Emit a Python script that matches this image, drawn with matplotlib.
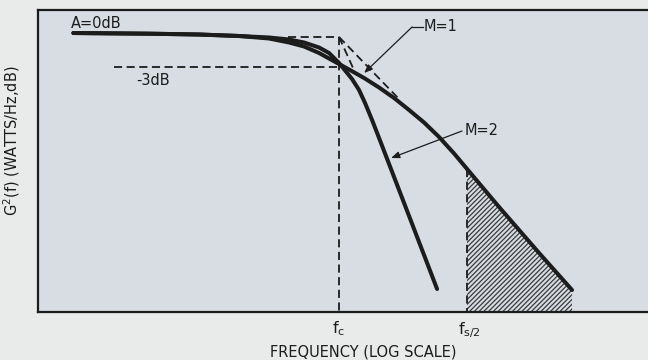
import matplotlib
matplotlib.use("Agg")
from matplotlib import pyplot as plt

plt.rcParams["font.family"] = ["DejaVu Sans"]
plt.rcParams["hatch.linewidth"] = 0.9
plt.rcParams["mathtext.default"] = "regular"

# Data (frequency normalised so that fc = 100, fs/2 = 1000) ──────────────────
FC = 100.0
FS2 = 1000.0

m1_freq = [0.84, 3.3, 8.0, 16.6, 28.4, 40.7, 53.3, 69.8, 83.5, 100.0, 119.7,
           156.8, 205.4, 269.0, 352.3, 461.4, 604.3, 791.6, 1000.0, 1778.0,
           3652.0, 6607.0]
m1_db = [0.4, 0.33, 0.25, 0.1, -0.15, -0.55, -0.95, -1.6, -2.15, -2.7, -3.25,
         -4.1, -5.05, -6.1, -7.3, -8.55, -10.0, -11.65, -13.2, -17.0, -21.6,
         -25.3]

m2_freq = [0.84, 3.3, 8.0, 16.6, 28.4, 40.7, 53.3, 69.8, 83.5, 100.0, 126.3,
           143.3, 159.6, 181.1, 205.4, 245.9, 352.3, 583.1]
m2_db = [0.4, 0.33, 0.25, 0.1, -0.05, -0.25, -0.55, -1.05, -1.6, -2.6, -4.2,
         -5.3, -6.6, -8.3, -10.1, -12.7, -17.9, -25.2]

# straight-line asymptotes from the corner at (fc, 0 dB)
asym_m1_freq = [FC, 294.0]
asym_m1_db = [0.0, -6.2]
asym_m2_freq = [FC, 128.6]
asym_m2_db = [0.0, -3.1]

zero_db_freq = [40.0, FC]
minus3_freq = [1.75, FC]

XLIM = (0.445, 25900.0)
YLIM = (-27.5, 2.7)

INK = "#1c1c1c"
DASH = (0, (4.5, 2.5))

# Plot ─────────────────────────────────────────────────────────────────────────
fig = plt.figure(figsize=(6.48, 3.6), dpi=100, facecolor="#e9eaea")
ax = fig.add_axes([38 / 648, 48 / 360, 610 / 648, 302 / 360])
ax.set_facecolor("#d7dde3")
ax.set_xscale("log")
ax.set_xlim(*XLIM)
ax.set_ylim(*YLIM)

# hatched aliasing region beyond fs/2
hx = [f for f in m1_freq if f >= FS2]
hy = [d for f, d in zip(m1_freq, m1_db) if f >= FS2]
ax.fill_between(hx, hy, YLIM[0], facecolor="none", edgecolor="#3a3a3a",
                hatch="///////", linewidth=0)

# dashed guides
ax.plot(zero_db_freq, [0, 0], color=INK, lw=1.3, ls=DASH)
ax.plot(minus3_freq, [-3, -3], color=INK, lw=1.3, ls=DASH)
ax.plot([FC, FC], [0, YLIM[0]], color=INK, lw=1.3, ls=DASH)
ax.plot([FS2, FS2], [m1_db[m1_freq.index(FS2)], YLIM[0]], color=INK, lw=1.3, ls=DASH)
ax.plot(asym_m1_freq, asym_m1_db, color=INK, lw=1.3, ls=DASH)
ax.plot(asym_m2_freq, asym_m2_db, color=INK, lw=1.3, ls=DASH)

# response curves
ax.plot(m1_freq, m1_db, color=INK, lw=2.9, solid_capstyle="round",
        solid_joinstyle="round")
ax.plot(m2_freq, m2_db, color=INK, lw=2.9, solid_capstyle="round",
        solid_joinstyle="round")

# labels inside the plot
ax.text(0.81, 0.9, "A=0dB", fontsize=10.5, color=INK, ha="left", va="baseline")
ax.text(2.6, -4.8, "-3dB", fontsize=10.5, color=INK, ha="left", va="baseline")

ax.text(461, 1.0, "M=1", fontsize=10.5, color=INK, ha="left", va="center")
ax.plot([372, 455], [1.0, 1.0], color=INK, lw=0.9)
ax.annotate("", xy=(157, -3.6), xytext=(372, 1.0),
            arrowprops=dict(arrowstyle="-|>,head_length=0.5,head_width=0.2",
                            color=INK, lw=0.9, shrinkA=0, shrinkB=0))

ax.text(949, -9.4, "M=2", fontsize=10.5, color=INK, ha="left", va="center")
ax.annotate("", xy=(255, -12.1), xytext=(913, -9.4),
            arrowprops=dict(arrowstyle="-|>,head_length=0.5,head_width=0.2",
                            color=INK, lw=0.9, shrinkA=0, shrinkB=0))

# frequency markers below the axis
ax.set_xticks([])
ax.set_yticks([])
ax.minorticks_off()
trans = ax.get_xaxis_transform()
ax.text(FC, -0.025, "$f_c$", transform=trans, fontsize=11.5, color=INK,
        ha="center", va="top")
ax.text(852, -0.025, "$f_{s/2}$", transform=trans, fontsize=11.5, color=INK,
        ha="left", va="top")

for side in ("top", "left", "bottom"):
    ax.spines[side].set_linewidth(1.6)
    ax.spines[side].set_color(INK)
ax.spines["right"].set_visible(False)

fig.text(363 / 648, 1 - 352 / 360, "FREQUENCY (LOG SCALE)", fontsize=10.5,
         color=INK, ha="center", va="center")
fig.text(12 / 648, 1 - 141 / 360, "G$^2$(f) (WATTS/Hz,dB)", fontsize=10.5,
         color=INK, ha="center", va="center", rotation=90)

fig.savefig("out.png", dpi=100, facecolor=fig.get_facecolor())
